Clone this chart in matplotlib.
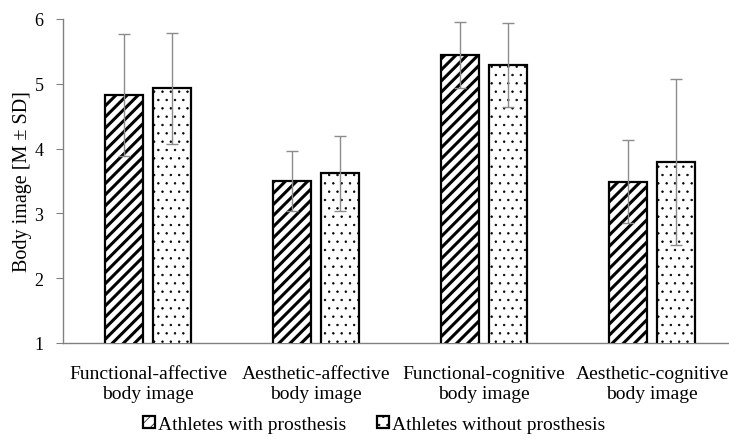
import numpy as np
import matplotlib.pyplot as plt

plt.rcParams['font.family'] = ['Liberation Serif', 'DejaVu Serif']
plt.rcParams['hatch.color'] = 'black'

# Body image scores per dimension, mean and SD for each group
categories = ['Functional-affective\nbody image', 'Aesthetic-affective\nbody image',
              'Functional-cognitive\nbody image', 'Aesthetic-cognitive\nbody image']
with_prosthesis_mean = [4.83, 3.50, 5.44, 3.49]
with_prosthesis_sd = [0.94, 0.47, 0.51, 0.64]
without_prosthesis_mean = [4.93, 3.62, 5.29, 3.80]
without_prosthesis_sd = [0.86, 0.58, 0.65, 1.28]
series_names = ['Athletes with prosthesis', 'Athletes without prosthesis']

fig = plt.figure(figsize=(7.29, 4.39), dpi=100)
ax = fig.add_axes([63 / 729, 95 / 439, 666 / 729, 324 / 439])

x = np.arange(len(categories))
w = 0.226
off = 0.143
err_kw = dict(ecolor='#8c8c8c', elinewidth=1.0, capsize=4, capthick=1.0, zorder=5)

# thick stripes for the first group, fine dots for the second
plt.rcParams['hatch.linewidth'] = 2.2
ax.bar(x - off, with_prosthesis_mean, w, color='white', edgecolor='black',
       linewidth=1.6, hatch='///', label=series_names[0], zorder=3)
plt.rcParams['hatch.linewidth'] = 0.5
ax.bar(x + off, without_prosthesis_mean, w, color='white', edgecolor='black',
       linewidth=1.6, hatch='..', label=series_names[1], zorder=3)
ax.errorbar(x - off, with_prosthesis_mean, yerr=with_prosthesis_sd, fmt='none', **err_kw)
ax.errorbar(x + off, without_prosthesis_mean, yerr=without_prosthesis_sd, fmt='none', **err_kw)

ax.set_ylim(1, 6)
ax.set_xlim(-0.506, 3.458)
ax.set_yticks([1, 2, 3, 4, 5, 6])
ax.set_xticks(x)
ax.set_xticklabels(categories, fontsize=14, linespacing=1.2)
ax.tick_params(axis='x', length=0, pad=16)
ax.tick_params(axis='y', labelsize=13, length=5, color='#808080', pad=9)
ax.set_ylabel('Body image [M ± SD]', fontsize=14.5, labelpad=2)

for side in ['top', 'right']:
    ax.spines[side].set_visible(False)
for side in ['left', 'bottom']:
    ax.spines[side].set_color('#808080')
    ax.spines[side].set_linewidth(1.0)

fig.legend(loc='lower center', bbox_to_anchor=(0.513, -0.02), ncol=2, frameon=False,
           fontsize=14, handlelength=0.6, handleheight=0.6, handletextpad=0.15,
           columnspacing=1.6, borderpad=0.2)

fig.savefig('out.png', dpi=100)
